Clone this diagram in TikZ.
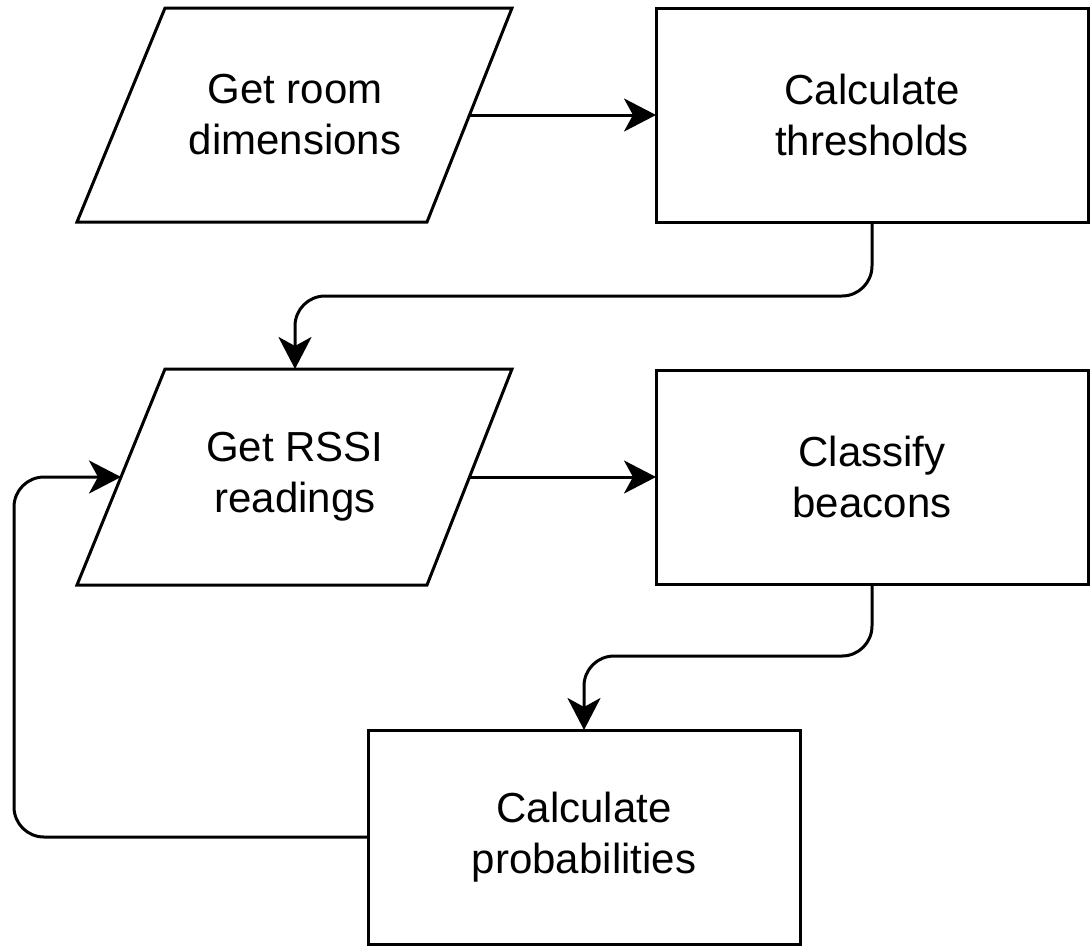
\documentclass[tikz,border=0pt]{standalone}
\usepackage{fontspec}
\setmainfont{Liberation Sans}
\usetikzlibrary{arrows.meta}
\begin{document}
\begin{tikzpicture}[x=1pt,y=-1pt,line width=3pt,
  lbl/.style={align=center,font=\fontsize{42}{51}\selectfont,inner sep=0pt,outer sep=0pt},
  box/.style={lbl,draw,rectangle,minimum width=432pt,minimum height=214pt},
  para/.style={draw,line join=miter},
  arr/.style={-{Stealth[length=32pt,width=33pt,inset=9pt]},rounded corners=30pt}]
\useasboundingbox (0,0) rectangle (1090,946);
% input parallelograms
\draw[para] (165,8) -- (512,8) -- (427,222) -- (77,222) -- cycle;
\node[lbl] (room) at (295,115) {Get room\\dimensions};
\coordinate (roomE) at (470,115);
\draw[para] (165,369) -- (512,369) -- (427,585) -- (77,585) -- cycle;
\node[lbl] (rssi) at (295,477) {Get RSSI\\readings};
\coordinate (rssiN) at (295,369);
\coordinate (rssiE) at (470,477);
\coordinate (rssiW) at (121,477);
% process boxes
\node[box] (thr) at (872,115) {Calculate\\thresholds};
\node[box] (cls) at (872,477) {Classify\\beacons};
\node[box] (prob) at (584,837) {Calculate\\probabilities};
% connectors
\draw[arr] (roomE) -- (thr.west);
\draw[arr] (thr.south) -- ++(0,74) -| (rssiN);
\draw[arr] (rssiE) -- (cls.west);
\draw[arr] (cls.south) -- ++(0,72) -| (prob.north);
\draw[arr] (prob.west) -- ++(-354,0) |- (rssiW);
\end{tikzpicture}
\end{document}
